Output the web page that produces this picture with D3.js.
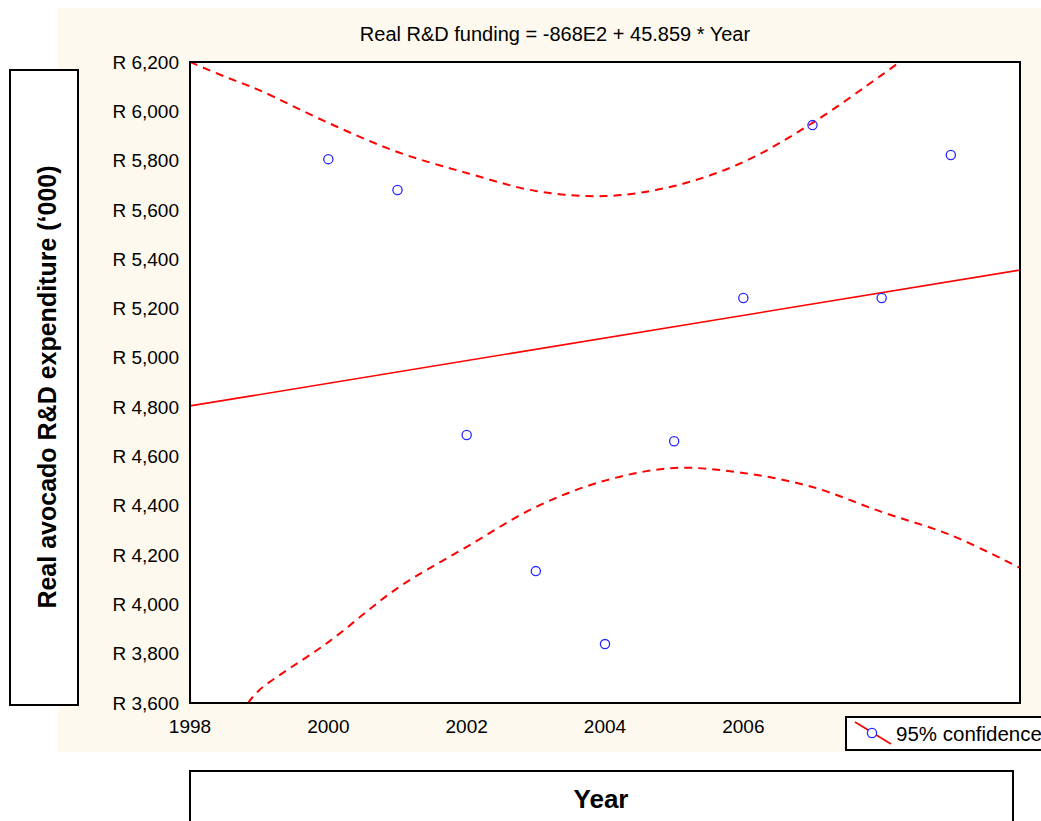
<!DOCTYPE html>
<html lang="en">
<head>
    <meta charset="UTF-8">
    <title>Real avocado R&amp;D expenditure</title>
    <script src="https://d3js.org/d3.v7.min.js"></script>
    <style>
        body {
            margin: 0;
            background-color: #ffffff;
            font-family: 'Liberation Sans', Arial, sans-serif;
        }
        svg text { fill: #000; }
    </style>
</head>
<body>
    <svg width="1041" height="821"></svg>

    <script>
        // observed points
        const years = [2000, 2001, 2002, 2003, 2004, 2005, 2006, 2007, 2008, 2009];
        const funding = [5806, 5681, 4687, 4135, 3839, 4662, 5243, 5944, 5243, 5823];

        // fitted line end points
        const fitYears = [1998, 2010];
        const fitValues = [4805, 5356];

        // 95% confidence band
        const upperYears = [1998, 1998.5, 1999, 2000, 2001, 2002, 2003, 2004, 2005, 2006, 2007, 2008, 2008.26];
        const upperValues = [6200, 6141, 6086, 5953, 5835, 5750, 5677, 5656, 5697, 5794, 5953, 6147, 6200];
        const lowerYears = [1998.84, 1999, 2000, 2001, 2002, 2003, 2004, 2005, 2006, 2007, 2008, 2009, 2010];
        const lowerValues = [3600, 3652, 3847, 4066, 4233, 4395, 4502, 4553, 4533, 4476, 4375, 4281, 4148];

        // 2008 and 2010 sit under the legend in the original, so they are left out
        const xTicks = [1998, 2000, 2002, 2004, 2006];
        const yTicks = d3.range(3600, 6201, 200);

        function draw() {
            const svg = d3.select("svg");
            const pl = 190, pr = 1020, pt = 62, pb = 703;

            const x = d3.scaleLinear().domain([1998, 2010]).range([pl, pr]);
            const y = d3.scaleLinear().domain([3600, 6200]).range([pb, pt]);

            // beige panel
            svg.append("rect")
                .attr("x", 58).attr("y", 8)
                .attr("width", 1041 - 58).attr("height", 752 - 8)
                .attr("fill", "#fdf9ee");

            // plot area
            svg.append("rect")
                .attr("x", pl).attr("y", pt)
                .attr("width", pr - pl).attr("height", pb - pt)
                .attr("fill", "#fff");

            svg.append("defs").append("clipPath").attr("id", "clip")
                .append("rect")
                .attr("x", pl).attr("y", pt)
                .attr("width", pr - pl).attr("height", pb - pt);

            // title
            svg.append("text")
                .attr("x", 555).attr("y", 41)
                .attr("text-anchor", "middle")
                .style("font-size", "20px")
                .text("Real R&D funding = -868E2 + 45.859 * Year");

            // y tick labels
            svg.append("g").selectAll("text")
                .data(yTicks)
                .join("text")
                .attr("x", 179)
                .attr("y", d => y(d))
                .attr("dy", "0.35em")
                .attr("text-anchor", "end")
                .style("font-size", "19px")
                .text(d => "R " + d3.format(",")(d));

            // x tick labels
            svg.append("g").selectAll("text")
                .data(xTicks)
                .join("text")
                .attr("x", d => x(d))
                .attr("y", 733)
                .attr("text-anchor", "middle")
                .style("font-size", "19px")
                .text(d => d);

            const plot = svg.append("g").attr("clip-path", "url(#clip)");

            const line = d3.line()
                .x(d => x(d[0]))
                .y(d => y(d[1]));

            plot.append("path")
                .datum(d3.zip(fitYears, fitValues))
                .attr("d", line)
                .attr("fill", "none")
                .attr("stroke", "#ff0000")
                .attr("stroke-width", 1.6);

            const bandLine = d3.line()
                .curve(d3.curveCatmullRom)
                .x(d => x(d[0]))
                .y(d => y(d[1]));

            [d3.zip(upperYears, upperValues), d3.zip(lowerYears, lowerValues)].forEach(band => {
                plot.append("path")
                    .datum(band)
                    .attr("d", bandLine)
                    .attr("fill", "none")
                    .attr("stroke", "#ff0000")
                    .attr("stroke-width", 2)
                    .attr("stroke-dasharray", "8,6");
            });

            plot.selectAll("circle")
                .data(d3.zip(years, funding))
                .join("circle")
                .attr("cx", d => x(d[0]))
                .attr("cy", d => y(d[1]))
                .attr("r", 4.6)
                .attr("fill", "none")
                .attr("stroke", "#2626ff")
                .attr("stroke-width", 1.3);

            // plot border
            svg.append("rect")
                .attr("x", pl).attr("y", pt)
                .attr("width", pr - pl).attr("height", pb - pt)
                .attr("fill", "none")
                .attr("stroke", "#000")
                .attr("stroke-width", 2);

            // legend
            const legend = svg.append("g");
            legend.append("rect")
                .attr("x", 846).attr("y", 717)
                .attr("width", 210).attr("height", 33)
                .attr("fill", "#fff")
                .attr("stroke", "#000")
                .attr("stroke-width", 2);
            legend.append("line")
                .attr("x1", 855).attr("y1", 722)
                .attr("x2", 891).attr("y2", 744)
                .attr("stroke", "#ff0000")
                .attr("stroke-width", 1.6);
            legend.append("circle")
                .attr("cx", 872).attr("cy", 733).attr("r", 4.6)
                .attr("fill", "#fff")
                .attr("stroke", "#2626ff")
                .attr("stroke-width", 1.3);
            legend.append("text")
                .attr("x", 896).attr("y", 741)
                .style("font-size", "20.5px")
                .text("95% confidence");

            // y axis title box
            svg.append("rect")
                .attr("x", 10).attr("y", 70)
                .attr("width", 68).attr("height", 635)
                .attr("fill", "#fff")
                .attr("stroke", "#000")
                .attr("stroke-width", 2);
            svg.append("text")
                .attr("transform", "translate(56,387) rotate(-90)")
                .attr("text-anchor", "middle")
                .style("font-size", "25px")
                .style("font-weight", "bold")
                .text("Real avocado R&D expenditure (\u2018000)");

            // x axis title box
            svg.append("rect")
                .attr("x", 190).attr("y", 771)
                .attr("width", 823).attr("height", 80)
                .attr("fill", "#fff")
                .attr("stroke", "#000")
                .attr("stroke-width", 2);
            svg.append("text")
                .attr("x", 601).attr("y", 808)
                .attr("text-anchor", "middle")
                .style("font-size", "26px")
                .style("font-weight", "bold")
                .text("Year");
        }

        draw();
    </script>
</body>
</html>
